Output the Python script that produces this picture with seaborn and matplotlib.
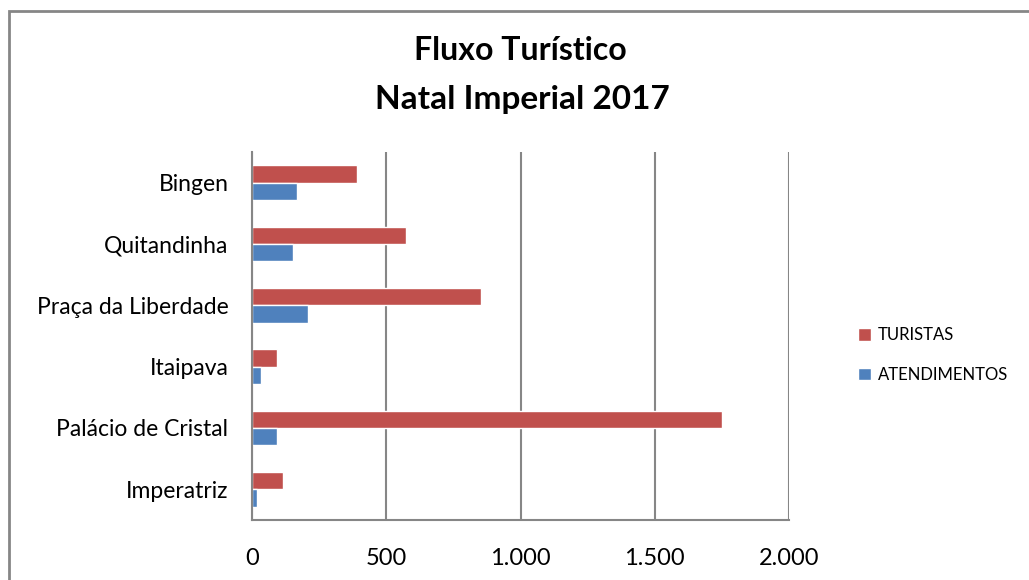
import numpy as np
import pandas as pd
import matplotlib.pyplot as plt
import matplotlib.ticker as mticker
from matplotlib.patches import Rectangle
import seaborn as sb

sb.set_style("white")
plt.rcParams['font.family'] = ['Lato', 'DejaVu Sans']
plt.rcParams['text.color'] = 'black'
plt.rcParams['xtick.labelcolor'] = 'black'
plt.rcParams['ytick.labelcolor'] = 'black'

locais = ["Bingen", "Quitandinha", "Praça da Liberdade", "Itaipava",
          "Palácio de Cristal", "Imperatriz"]
turistas = [391, 574, 852, 93, 1750, 115]
atendimentos = [166, 152, 210, 35, 93, 19]
series = ["TURISTAS", "ATENDIMENTOS"]
cores = ["#C0504D", "#4F81BD"]
xticks = [0, 500, 1000, 1500, 2000]

df = pd.DataFrame({
    "local": locais * 2,
    "valor": turistas + atendimentos,
    "serie": [series[0]] * len(locais) + [series[1]] * len(locais),
})

fig = plt.figure(figsize=(10.29, 5.80), dpi=100)
ax = fig.add_axes([252 / 1029, 1 - 520 / 580, (789 - 252) / 1029, (520 - 152) / 580])

sb.barplot(data=df, x="valor", y="local", hue="serie", order=locais,
           hue_order=series, palette=cores, orient="h", width=0.57,
           saturation=1, ax=ax)

ax.set_xlim(0, 2000)
ax.set_xticks(xticks)
ax.xaxis.set_major_formatter(mticker.FuncFormatter(lambda v, p: f"{int(v):,}".replace(",", ".")))
ax.grid(axis="x", color="#868686", linewidth=1.5)
ax.set_axisbelow(True)
for s in ["top", "right"]:
    ax.spines[s].set_visible(False)
for s in ["left", "bottom"]:
    ax.spines[s].set_color("#868686")
    ax.spines[s].set_linewidth(1.5)
ax.tick_params(axis="x", labelsize=17, pad=20, length=0, labelcolor="black")
ax.tick_params(axis="y", labelsize=16.5, pad=17, length=0, labelcolor="black")
ax.set_xlabel("")
ax.set_ylabel("")

ax.legend(loc="center left", bbox_to_anchor=(843 / 1029, 1 - 355 / 580),
          bbox_transform=fig.transFigure, frameon=False,
          fontsize=12, handlelength=0.8, handleheight=0.8, handletextpad=0.4,
          labelspacing=1.4, labelcolor="black")

fig.text(520 / 1029, 1 - 50 / 580, "Fluxo Turístico", ha="center", va="center",
         fontsize=23, fontweight="bold")
fig.text(522 / 1029, 1 - 100 / 580, "Natal Imperial 2017", ha="center", va="center",
         fontsize=24, fontweight="bold")

fig.patches.append(Rectangle((9 / 1029, -0.1), 1.2, 1.1 - 11 / 580,
                             transform=fig.transFigure, fill=False,
                             edgecolor="#868686", linewidth=2))

fig.savefig("out.png", dpi=100)
